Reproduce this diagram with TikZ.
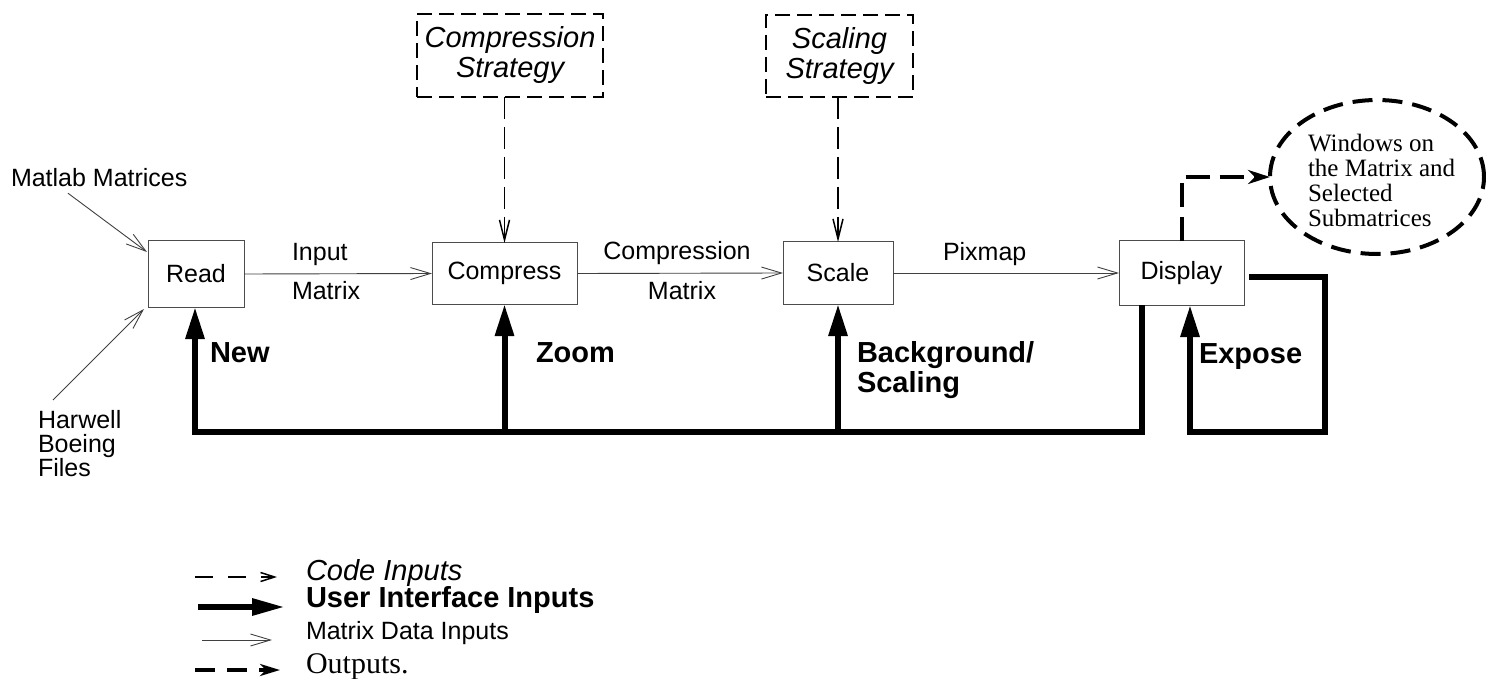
\documentclass[tikz,border=0pt]{standalone}
\usepackage{fontspec}
\setmainfont{Liberation Sans}
\newfontfamily\serifface{Liberation Serif}
\usetikzlibrary{arrows.meta,calc,shapes.geometric}

\begin{document}
\begin{tikzpicture}[x=1pt,y=-1pt,
  every node/.style={inner sep=0pt,outer sep=0pt},
  txt/.style={font=\fontsize{25}{24}\selectfont},
  bigit/.style={font=\fontsize{29}{30}\selectfont\itshape},
  bigbf/.style={font=\fontsize{29}{30}\selectfont\bfseries},
  serif/.style={font=\fontsize{25}{25}\selectfont\serifface},
  procbox/.style={draw=black!70,line width=1pt,txt},
  stratbox/.style={draw,line width=1.5pt,dash pattern=on 15pt off 7pt,align=center,bigit},
  datalink/.style={draw=black!75,line width=0.9pt,-{Straight Barb[length=20pt,width=12pt,line width=0.9pt]}},
  codelink/.style={draw,line width=1.5pt,dash pattern=on 22pt off 8pt,-{Straight Barb[length=20pt,width=10pt,line width=1.5pt]}},
  uiline/.style={draw,line width=6pt,line join=miter},
  uilink/.style={uiline,-{Triangle[length=32pt,width=18pt]}},
  outlink/.style={draw,line width=4pt,dash pattern=on 24pt off 10pt,-{Stealth[length=22pt,width=14pt,inset=7pt]}},
]
\useasboundingbox (0,0) rectangle (1486,679);

% processing stages
\node[procbox,minimum width=96pt,minimum height=66pt] (read) at (196,274) {Read};
\node[procbox,minimum width=145pt,minimum height=61pt] (compress) at (504.5,273.5) {Compress};
\node[procbox,minimum width=110pt,minimum height=62pt] (scale) at (838,273) {Scale};
\node[procbox,minimum width=125pt,minimum height=64pt] (disp) at (1181.5,273) {Display};

% strategies
\node[stratbox,minimum width=186pt,minimum height=83pt] (cstrat) at (510,55.5) {Compression\\Strategy};
\node[stratbox,minimum width=147pt,minimum height=82pt] (sstrat) at (839.5,56) {Scaling\\Strategy};

% output ellipse
\node[draw,ellipse,line width=4pt,dash pattern=on 20pt off 10pt,
      minimum width=214pt,minimum height=154pt] (outell) at (1377,177) {};
\node[serif,align=left,anchor=north west] (outtxt) at (1308,134)
  {Windows on\\the Matrix and\\Selected\\Submatrices};

% sources
\node[txt,anchor=base west] (matlab) at (11,187) {Matlab Matrices};
\node[txt,align=left,anchor=north west] (harwell) at (38,410) {Harwell\\Boeing\\Files};
\draw[datalink] ($(matlab.south west)+(57,6)$) -- ($(read.north west)+(-1,11)$);
\draw[datalink] ($(harwell.north west)+(15,-10)$) -- ($(read.south west)+(-4,2)$);

% data flow
\draw[datalink] (read.east) -- (compress.west);
\draw[datalink] (compress.east) -- (scale.west);
\draw[datalink] (scale.east) -- (disp.west);
\node[txt,anchor=base west] (l1a) at (292,260) {Input};
\node[txt,anchor=base west] (l1b) at (292,299) {Matrix};
\node[txt,anchor=base] (l2a) at (677,259) {Compression};
\node[txt,anchor=base] (l2b) at (682,299) {Matrix};
\node[txt,anchor=base west] (l3) at (943,261) {Pixmap};

% code inputs
\draw[codelink] (cstrat.south -| compress.north) -- (compress.north);
\draw[codelink] (sstrat.south -| scale.north) -- (scale.north);

% output
\draw[outlink] (disp.north) |- (outell.west);

% user interface feedback
\coordinate (busR) at (1142,432);
\coordinate (busL) at (195,432);
\draw[uilink] (disp.south -| busR) -- (busR) -- (busL) -- (read.south -| busL);
\draw[uilink] (compress.south |- busL) -- (compress.south);
\draw[uilink] (scale.south |- busL) -- (scale.south);
\coordinate (expA) at (1325,277);
\coordinate (expB) at (1325,432);
\coordinate (expC) at (1190,432);
\draw[uilink] ($(disp.east)+(5,4)$) -- (expA) -- (expB) -- (expC) -- (expC |- disp.south);

\node[bigbf,anchor=base west] (lnew) at (210,362) {New};
\node[bigbf,anchor=base west] (lzoom) at (536,362) {Zoom};
\node[bigbf,align=left,anchor=north west] (lback) at (857,341) {Background/\\Scaling};
\node[bigbf,anchor=base west] (lexp) at (1199,363) {Expose};

% legend
\node[bigit,anchor=base west] (k1) at (306,580) {Code Inputs};
\node[bigbf,anchor=base west] (k2) at (306,607) {User Interface Inputs};
\node[txt,anchor=base west] (k3) at (306,639) {Matrix Data Inputs};
\node[font=\fontsize{30}{30}\selectfont\serifface,anchor=base west] (k4) at (306,673) {Outputs.};
\coordinate (k1s) at (195,577); \coordinate (k1e) at (277,577);
\coordinate (k2s) at (198,607); \coordinate (k2e) at (285,607);
\coordinate (k3s) at (202,640); \coordinate (k3e) at (272,640);
\coordinate (k4s) at (195,670); \coordinate (k4e) at (280,670);
\draw[codelink,dash pattern=on 18pt off 15pt,-{Straight Barb[length=14pt,width=9pt,line width=1.5pt]}] (k1s) -- (k1e);
\draw[uiline,-{Triangle[length=33pt,width=16pt]}] (k2s) -- (k2e);
\draw[datalink] (k3s) -- (k3e);
\draw[outlink,dash pattern=on 20pt off 12pt,-{Stealth[length=20pt,width=12pt,inset=6pt]}] (k4s) -- (k4e);
\end{tikzpicture}
\end{document}
